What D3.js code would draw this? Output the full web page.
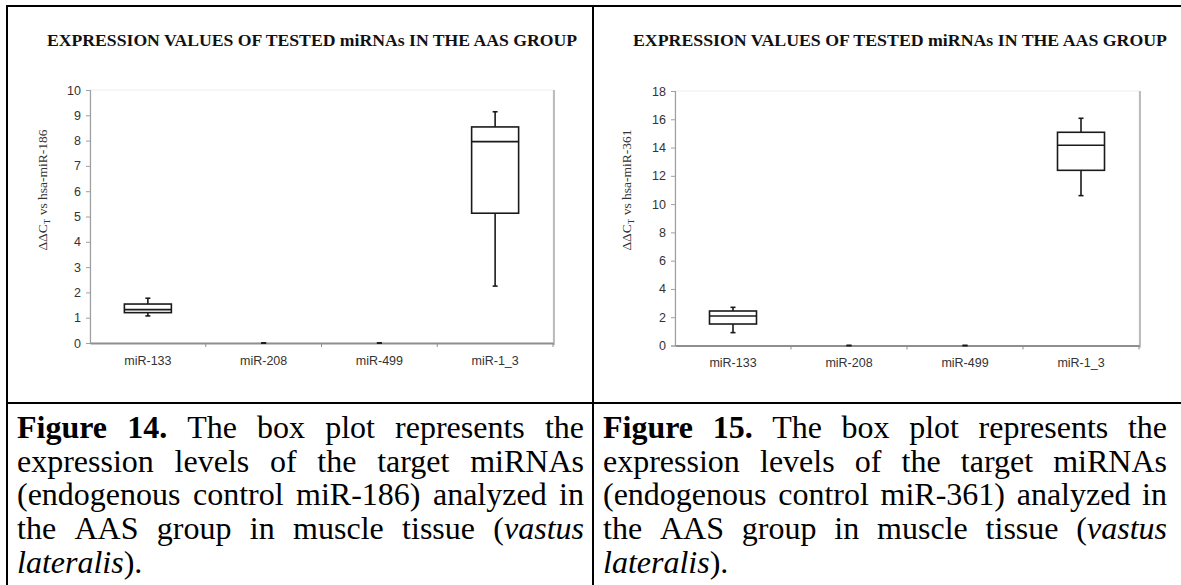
<!DOCTYPE html>
<html><head><meta charset="utf-8">
<script src="https://cdn.jsdelivr.net/npm/d3@7"></script>
<style>
html,body{margin:0;padding:0;background:#fff;}
svg{display:block;}
</style></head>
<body>
<svg id="c" width="1181" height="585"></svg>
<script>
// ---------- DATA ----------
const categories = ["miR-133", "miR-208", "miR-499", "miR-1_3"];
const chartTitle = "EXPRESSION VALUES OF TESTED miRNAs IN THE AAS GROUP";

// Figure 14 (endogenous control miR-186)
const yTicks14 = [0, 1, 2, 3, 4, 5, 6, 7, 8, 9, 10];
const whiskerLow14  = [1.07, 0, 0, 2.25];
const q1_14         = [1.20, 0, 0, 5.13];
const median14      = [1.32, 0, 0, 7.96];
const q3_14         = [1.54, 0, 0, 8.54];
const whiskerHigh14 = [1.77, 0, 0, 9.14];

// Figure 15 (endogenous control miR-361)
const yTicks15 = [0, 2, 4, 6, 8, 10, 12, 14, 16, 18];
const whiskerLow15  = [0.91, 0, 0, 10.60];
const q1_15         = [1.52, 0, 0, 12.39];
const median15      = [2.09, 0, 0, 14.16];
const q3_15         = [2.44, 0, 0, 15.08];
const whiskerHigh15 = [2.70, 0, 0, 16.07];

const caption14 = [
  [["Figure 14.", "b"], [" The box plot represents the", ""]],
  [["expression levels of the target miRNAs", ""]],
  [["(endogenous control miR-186) analyzed in", ""]],
  [["the AAS group in muscle tissue (", ""], ["vastus", "i"]],
  [["lateralis", "i"], [").", ""]]
];
const caption15 = [
  [["Figure 15.", "b"], [" The box plot represents the", ""]],
  [["expression levels of the target miRNAs", ""]],
  [["(endogenous control miR-361) analyzed in", ""]],
  [["the AAS group in muscle tissue (", ""], ["vastus", "i"]],
  [["lateralis", "i"], [").", ""]]
];

// ---------- DRAW ----------
const svg = d3.select("#c");
const serif = "Liberation Serif, Times New Roman, serif";
const sans = "Liberation Sans, Arial, sans-serif";

// table borders
const border = svg.append("g").attr("stroke", "#000").attr("stroke-width", 2).attr("fill", "none");
border.append("line").attr("x1", 7).attr("x2", 1181).attr("y1", 6).attr("y2", 6);
border.append("line").attr("x1", 7).attr("x2", 7).attr("y1", 5).attr("y2", 585);
border.append("line").attr("x1", 593).attr("x2", 593).attr("y1", 5).attr("y2", 585);
border.append("line").attr("x1", 7).attr("x2", 1181).attr("y1", 403).attr("y2", 403);

function drawChart(opt) {
  const g = svg.append("g");
  const y = d3.scaleLinear().domain([0, opt.yMax]).range([opt.bottom, opt.top]);
  const x = d3.scaleBand().domain(categories).range([opt.left, opt.right]).paddingInner(0).paddingOuter(0);

  // title
  g.append("text").attr("x", opt.titleX).attr("y", 46)
    .attr("font-family", serif).attr("font-weight", "bold").attr("font-size", 17)
    .attr("textLength", opt.titleW).attr("lengthAdjust", "spacingAndGlyphs")
    .attr("fill", "#111").text(chartTitle);

  // plot area frame
  g.append("rect").attr("x", opt.left).attr("y", opt.top)
    .attr("width", opt.right - opt.left).attr("height", opt.bottom - opt.top)
    .attr("fill", "#fff").attr("stroke", "#eeeeee").attr("stroke-width", 1);
  g.append("line").attr("x1", opt.right + 1).attr("x2", opt.right + 1)
    .attr("y1", opt.top).attr("y2", opt.bottom + 2)
    .attr("stroke", "#bdbdbd").attr("stroke-width", 2);

  // y axis
  const ya = g.append("g").attr("transform", `translate(${opt.left},0)`)
    .call(d3.axisLeft(y).tickValues(opt.ticks).tickSize(4).tickPadding(5).tickFormat(d3.format("d")));
  ya.select(".domain").attr("stroke", "#a0a0a0").attr("stroke-width", 1.2);
  ya.selectAll(".tick line").attr("stroke", "#a0a0a0");
  ya.selectAll(".tick text").attr("font-family", sans).attr("font-size", 12.5).attr("fill", "#333");

  // x axis
  const xa = g.append("g").attr("transform", `translate(0,${opt.bottom})`)
    .call(d3.axisBottom(x).tickSize(0).tickPadding(13));
  xa.select(".domain").attr("stroke", "#8f8f8f").attr("stroke-width", 2);
  xa.selectAll(".tick text").attr("font-family", sans).attr("font-size", 12.5).attr("fill", "#333");
  // category separators
  g.append("g").selectAll("line").data(categories.slice(1).concat(["end"]))
    .join("line")
    .attr("x1", (d, i) => i < categories.length - 1 ? x(d) : opt.right)
    .attr("x2", (d, i) => i < categories.length - 1 ? x(d) : opt.right)
    .attr("y1", opt.bottom).attr("y2", opt.bottom + 4)
    .attr("stroke", "#8f8f8f").attr("stroke-width", 1);

  // y label
  const lab = g.append("text")
    .attr("transform", `translate(${opt.labX},${opt.labY}) rotate(-90)`)
    .attr("text-anchor", "middle").attr("font-family", serif).attr("font-size", 13.5).attr("fill", "#333");
  lab.append("tspan").text("ΔΔC");
  lab.append("tspan").attr("font-size", 9).attr("dy", 3).text("T");
  lab.append("tspan").attr("dy", -3).text(" vs hsa-" + opt.ctrl);

  // boxes
  const data = categories.map((c, i) => ({
    c, lo: opt.lo[i], q1: opt.q1[i], med: opt.med[i], q3: opt.q3[i], hi: opt.hi[i]
  }));
  const bw = 47, cap = 5;
  const bg = g.append("g").attr("stroke", "#1a1a1a").attr("stroke-width", 1.6).attr("fill", "none");
  data.forEach(d => {
    const cx = x(d.c) + x.bandwidth() / 2;
    if (d.hi > d.q3) bg.append("line").attr("x1", cx).attr("x2", cx).attr("y1", y(d.q3)).attr("y2", y(d.hi));
    if (d.q1 > d.lo) bg.append("line").attr("x1", cx).attr("x2", cx).attr("y1", y(d.q1)).attr("y2", y(d.lo));
    bg.append("line").attr("x1", cx - cap / 2).attr("x2", cx + cap / 2).attr("y1", y(d.hi)).attr("y2", y(d.hi));
    bg.append("line").attr("x1", cx - cap / 2).attr("x2", cx + cap / 2).attr("y1", y(d.lo)).attr("y2", y(d.lo));
    if (d.q3 > d.q1) {
      bg.append("rect").attr("x", cx - bw / 2).attr("y", y(d.q3))
        .attr("width", bw).attr("height", y(d.q1) - y(d.q3)).attr("fill", "#fff");
      bg.append("line").attr("x1", cx - bw / 2).attr("x2", cx + bw / 2).attr("y1", y(d.med)).attr("y2", y(d.med));
    }
  });
}

drawChart({left: 90, right: 553, top: 90, bottom: 343, yMax: 10, ticks: yTicks14,
  titleX: 47, titleW: 530, labX: 47, labY: 190, ctrl: "miR-186",
  lo: whiskerLow14, q1: q1_14, med: median14, q3: q3_14, hi: whiskerHigh14});
drawChart({left: 675, right: 1139, top: 91, bottom: 345.5, yMax: 18, ticks: yTicks15,
  titleX: 633, titleW: 534, labX: 631, labY: 190, ctrl: "miR-361",
  lo: whiskerLow15, q1: q1_15, med: median15, q3: q3_15, hi: whiskerHigh15});

// captions (justified)
function drawCaption(lines, x0, x1) {
  const fs = 32, base = 438, lh = 33.7;
  lines.forEach((segs, li) => {
    // build word groups; a segment not starting with a space glues to the previous word
    const groups = [];
    segs.forEach(([txt, st], si) => {
      txt.split(" ").forEach((p, pi) => {
        if (!p.length) return;
        const glue = pi === 0 && si > 0 && groups.length;
        const piece = {t: p, st};
        if (glue) groups[groups.length - 1].push(piece); else groups.push([piece]);
      });
    });
    const y = base + li * lh;
    const els = groups.map(gr => {
      const t = svg.append("text").attr("y", y).attr("font-family", serif).attr("font-size", fs).attr("fill", "#000");
      gr.forEach(p => {
        const ts = t.append("tspan").text(p.t);
        if (p.st === "b") ts.attr("font-weight", "bold");
        if (p.st === "i") ts.attr("font-style", "italic");
      });
      return {t, w: t.node().getComputedTextLength()};
    });
    const total = d3.sum(els, e => e.w);
    const last = li === lines.length - 1;
    const gap = last || els.length < 2 ? fs * 0.25 : (x1 - x0 - total) / (els.length - 1);
    let cx = x0;
    els.forEach(e => { e.t.attr("x", cx); cx += e.w + gap; });
  });
}
drawCaption(caption14, 17, 584);
drawCaption(caption15, 603, 1167);
</script>
</body></html>
